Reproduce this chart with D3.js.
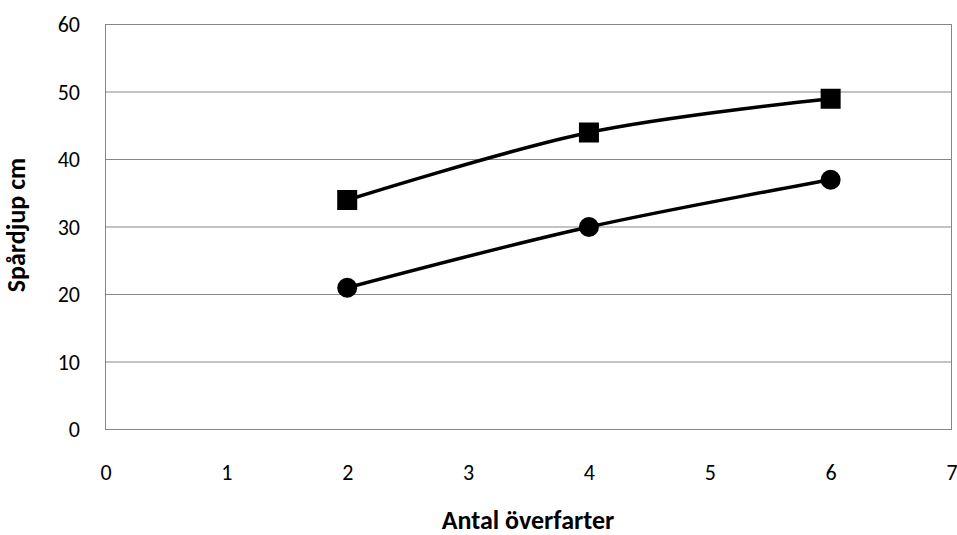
<!DOCTYPE html>
<html>
<head>
<meta charset="utf-8">
<script src="https://cdn.jsdelivr.net/npm/d3@7"></script>
<style>
  html, body { margin: 0; padding: 0; background: #fff; }
  svg { display: block; font-family: Carlito, Calibri, Lato, "Open Sans", sans-serif; }
</style>
</head>
<body>
<svg id="chart" width="957" height="535"></svg>
<script>
// Rut depth after repeated passes
const passes = [2, 4, 6];
const seriesSquare = [34, 44, 49];
const seriesCircle = [21, 30, 37];
const xTicks = [0, 1, 2, 3, 4, 5, 6, 7];
const yTicks = [0, 10, 20, 30, 40, 50, 60];
const xTitle = "Antal överfarter";
const yTitle = "Spårdjup cm";

const svg = d3.select("#chart");
const plot = { left: 105.5, right: 951.5, top: 24.5, bottom: 429.5 };

const x = d3.scaleLinear().domain([0, 7]).range([plot.left, plot.right]);
const y = d3.scaleLinear().domain([0, 60]).range([plot.bottom, plot.top]);

const gridColor = "#868686";
const fontStack = "Carlito, Calibri, Lato, sans-serif";

// horizontal gridlines
svg.append("g")
  .selectAll("line")
  .data(yTicks)
  .join("line")
  .attr("x1", plot.left).attr("x2", plot.right)
  .attr("y1", d => y(d)).attr("y2", d => y(d))
  .attr("stroke", gridColor).attr("stroke-width", 1);

// plot area frame
svg.append("rect")
  .attr("x", plot.left).attr("y", plot.top)
  .attr("width", plot.right - plot.left).attr("height", plot.bottom - plot.top)
  .attr("fill", "none").attr("stroke", gridColor).attr("stroke-width", 1);

// axes (labels only, no tick marks)
const yAxis = d3.axisLeft(y).tickValues(yTicks).tickFormat(d3.format("d"))
  .tickSize(0).tickPadding(25.5);
svg.append("g")
  .attr("transform", `translate(${plot.left},0)`)
  .call(yAxis)
  .call(g => g.select(".domain").remove())
  .call(g => g.selectAll("text").attr("font-size", 22).attr("fill", "#000")
    .attr("font-family", fontStack));

const xAxis = d3.axisBottom(x).tickValues(xTicks).tickFormat(d3.format("d"))
  .tickSize(0).tickPadding(35);
svg.append("g")
  .attr("transform", `translate(0,${plot.bottom})`)
  .call(xAxis)
  .call(g => g.select(".domain").remove())
  .call(g => g.selectAll("text").attr("font-size", 22).attr("fill", "#000")
    .attr("font-family", fontStack));

// axis titles
svg.append("text")
  .attr("x", 528)
  .attr("y", 529)
  .attr("text-anchor", "middle")
  .attr("font-size", 26).attr("font-weight", "bold")
  .attr("font-family", fontStack)
  .text(xTitle);

svg.append("text")
  .attr("transform", `translate(25,225) rotate(-90)`)
  .attr("text-anchor", "middle")
  .attr("font-size", 26).attr("font-weight", "bold")
  .attr("font-family", fontStack)
  .text(yTitle);

// smoothed series lines
const line = d3.line()
  .x((d, i) => x(passes[i]))
  .y(d => y(d))
  .curve(d3.curveCardinal.tension(0));

[seriesSquare, seriesCircle].forEach(s => {
  svg.append("path")
    .datum(s)
    .attr("d", line)
    .attr("fill", "none")
    .attr("stroke", "#000")
    .attr("stroke-width", 3.5)
    .attr("stroke-linejoin", "round");
});

// markers
svg.append("g").selectAll("rect")
  .data(seriesSquare)
  .join("rect")
  .attr("x", (d, i) => x(passes[i]) - 10)
  .attr("y", d => y(d) - 10)
  .attr("width", 20).attr("height", 20)
  .attr("fill", "#000");

svg.append("g").selectAll("circle")
  .data(seriesCircle)
  .join("circle")
  .attr("cx", (d, i) => x(passes[i]))
  .attr("cy", d => y(d))
  .attr("r", 10)
  .attr("fill", "#000");
</script>
</body>
</html>
